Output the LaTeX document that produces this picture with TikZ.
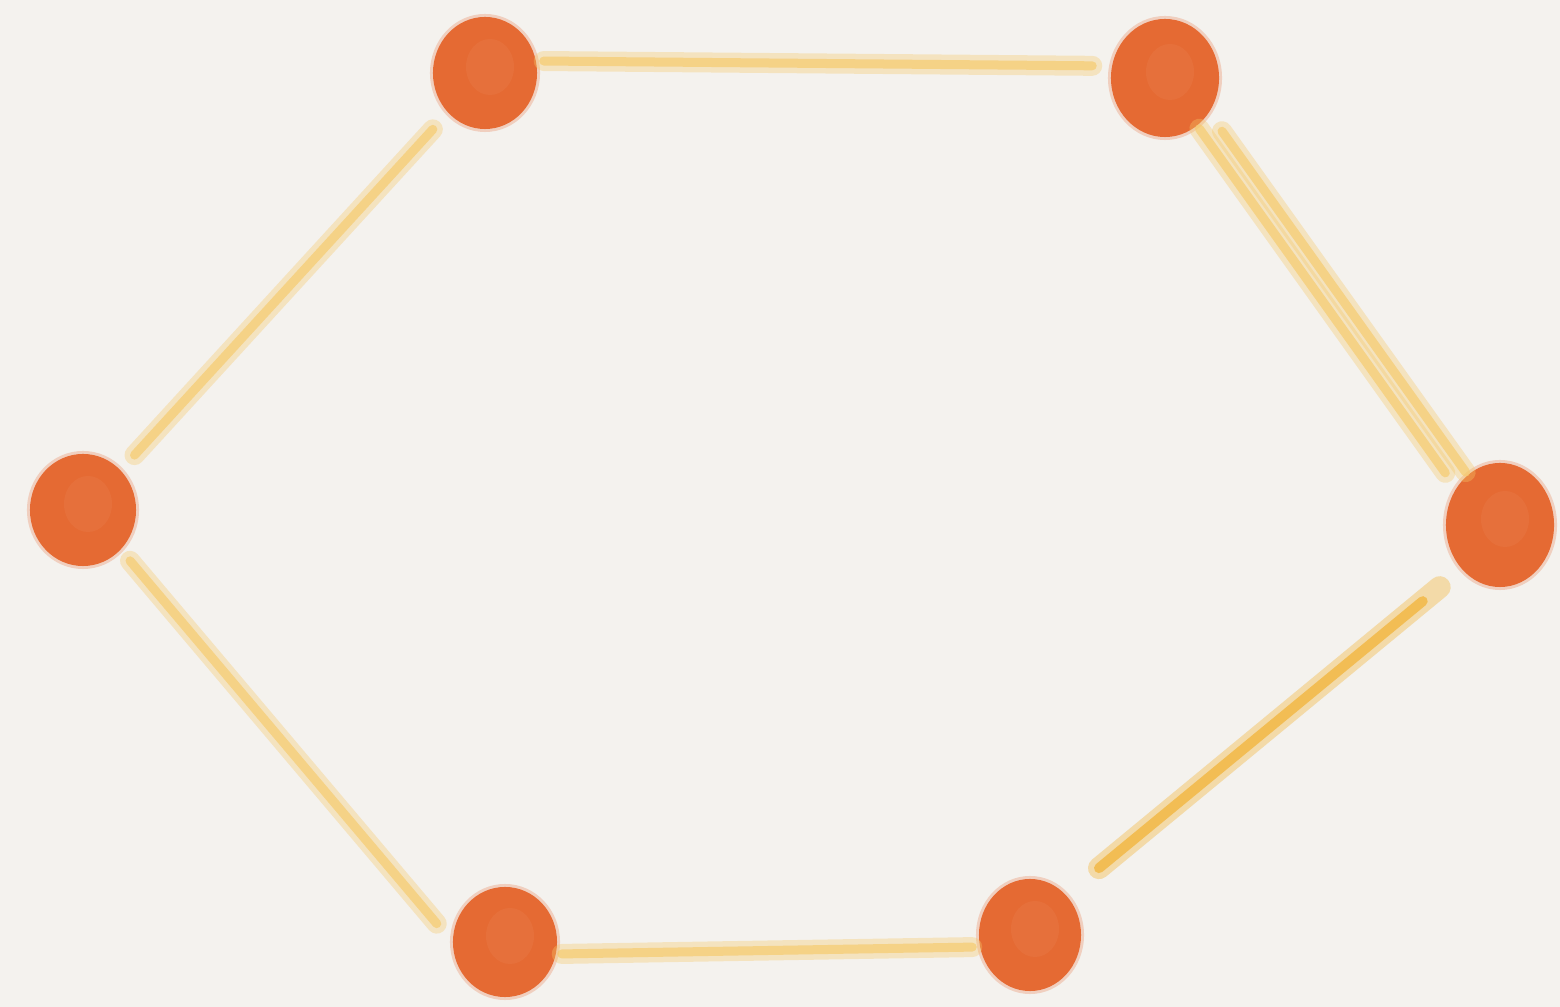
\documentclass[tikz,border=0pt]{standalone}
\usetikzlibrary{shapes.geometric}
\definecolor{bgc}{HTML}{F4F2EE}
\definecolor{dotc}{HTML}{E56A33}
\definecolor{dotlight}{HTML}{EE9A6E}
\definecolor{linec}{HTML}{F6C968}
\definecolor{linestrong}{HTML}{F2B640}
\tikzset{
  dot/.style={ellipse, inner sep=0pt, fill=dotc, draw=none,
    minimum width=1.04cm, minimum height=1.12cm},
  halo/.style={ellipse, inner sep=0pt, fill=dotc, opacity=0.25, draw=none},
  edgesoft/.style={draw=linec, line width=0.20cm, opacity=0.35, line cap=round},
  edgecore/.style={draw=linec, line width=0.09cm, opacity=0.65, line cap=round},
  edgestrongsoft/.style={draw=linestrong, line width=0.22cm, opacity=0.40, line cap=round},
  edgestrongcore/.style={draw=linestrong, line width=0.10cm, opacity=0.80, line cap=round},
}
\begin{document}
\begin{tikzpicture}[x=0.01cm, y=-0.01cm]
  \fill[bgc] (0,0) rectangle (1560,1007);
  \useasboundingbox (0,0) rectangle (1560,1007);

  % halos (soft edges of the chalk dots)
  \node[halo, minimum width=1.10cm, minimum height=1.18cm] (tlh) at (485,73) {};
  \node[halo, minimum width=1.14cm, minimum height=1.24cm] (trh) at (1165,78) {};
  \node[halo, minimum width=1.12cm, minimum height=1.18cm] (lh) at (83,510) {};
  \node[halo, minimum width=1.14cm, minimum height=1.30cm] (rh) at (1500,525) {};
  \node[halo, minimum width=1.10cm, minimum height=1.16cm] (blh) at (505,942) {};
  \node[halo, minimum width=1.08cm, minimum height=1.18cm] (brh) at (1030,935) {};

  % dots
  \node[dot] (tl) at (485,73) {};
  \node[dot, minimum width=1.08cm, minimum height=1.18cm] (tr) at (1165,78) {};
  \node[dot, minimum width=1.06cm, minimum height=1.12cm] (l) at (83,510) {};
  \node[dot, minimum width=1.08cm, minimum height=1.24cm] (r) at (1500,525) {};
  \node[dot, minimum width=1.04cm, minimum height=1.10cm] (bl) at (505,942) {};
  \node[dot, minimum width=1.02cm, minimum height=1.12cm] (br) at (1030,935) {};

  % subtle lighter flecks inside dots
  \foreach \n in {tl,tr,l,r,bl,br}{
    \fill[dotlight, opacity=0.14] ([xshift=0.05cm,yshift=0.06cm]\n.center) ellipse (0.24cm and 0.28cm);
  }

  % top edge
  \draw[edgesoft, transform canvas={yshift=0.12cm}, shorten <=0.06cm, shorten >=0.18cm] (tl.east) -- (tr.west);
  \draw[edgecore, transform canvas={yshift=0.12cm}, shorten <=0.06cm, shorten >=0.18cm] (tl.east) -- (tr.west);

  % upper-left edge
  \draw[edgesoft, shorten <=0.22cm, shorten >=0.20cm] (tl.south west) -- (l.north east);
  \draw[edgecore, shorten <=0.22cm, shorten >=0.20cm] (tl.south west) -- (l.north east);

  % lower-left edge
  \draw[edgesoft, shorten <=0.14cm, shorten >=0.24cm] (l.south east) -- (bl.west);
  \draw[edgecore, shorten <=0.14cm, shorten >=0.24cm] (l.south east) -- (bl.west);

  % bottom edge
  \draw[edgesoft, transform canvas={yshift=-0.12cm}, shorten <=0.04cm, shorten >=0.06cm] (bl.east) -- (br.west);
  \draw[edgecore, transform canvas={yshift=-0.12cm}, shorten <=0.04cm, shorten >=0.06cm] (bl.east) -- (br.west);

  % lower-right edge (stronger stroke)
  \draw[edgestrongsoft, shorten <=0.42cm, shorten >=0.28cm] (br.north east) -- (r.south west);
  \draw[edgestrongcore, shorten <=0.42cm, shorten >=0.50cm] (br.north east) -- (r.south west);

  % upper-right edge (doubled strokes)
  \draw[edgesoft, transform canvas={shift={(-0.09cm,-0.02cm)}}, shorten <=0.08cm, shorten >=0.12cm] (tr.south east) -- (r.north west);
  \draw[edgecore, transform canvas={shift={(-0.09cm,-0.02cm)}}, shorten <=0.08cm, shorten >=0.12cm] (tr.south east) -- (r.north west);
  \draw[edgesoft, transform canvas={shift={(0.09cm,0.02cm)}}, shorten <=0.16cm, shorten >=0.08cm] (tr.south east) -- (r.north west);
  \draw[edgecore, transform canvas={shift={(0.09cm,0.02cm)}}, shorten <=0.16cm, shorten >=0.08cm] (tr.south east) -- (r.north west);
\end{tikzpicture}
\end{document}
